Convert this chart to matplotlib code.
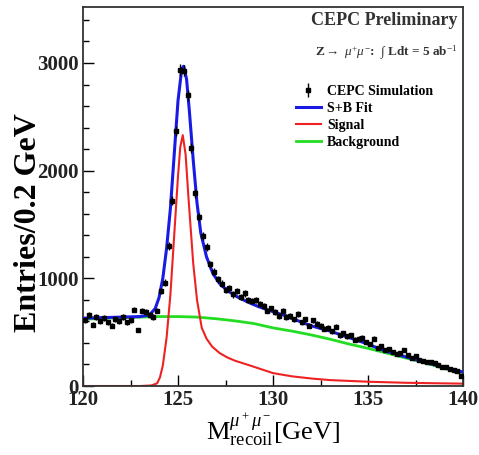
import numpy as np
import matplotlib
matplotlib.use("Agg")
import matplotlib.pyplot as plt
from matplotlib.ticker import MultipleLocator

plt.rcParams['font.family'] = ['Liberation Serif', 'DejaVu Serif']
plt.rcParams['mathtext.fontset'] = 'custom'
plt.rcParams['mathtext.rm'] = 'Liberation Serif'
plt.rcParams['mathtext.it'] = 'Liberation Serif:italic'
plt.rcParams['mathtext.bf'] = 'Liberation Serif:bold'

# recoil mass histogram, 0.2 GeV bins
bin_centers = [120.1 + 0.2 * i for i in range(100)]
entries = [610, 660, 570, 640, 600, 630, 590, 560, 620, 600,
           640, 590, 610, 710, 520, 700, 690, 660, 640, 700,
           880, 960, 1300, 1720, 2370, 2935, 2930, 2700, 2210, 1790,
           1570, 1390, 1290, 1130, 1060, 990, 950, 890, 910, 850,
           880, 830, 860, 800, 790, 800, 760, 740, 700, 720,
           690, 650, 700, 640, 650, 620, 670, 590, 620, 560,
           610, 580, 560, 530, 540, 510, 550, 470, 490, 460,
           470, 430, 440, 450, 410, 390, 440, 350, 370, 330,
           340, 320, 300, 310, 330, 290, 260, 280, 240, 230,
           225, 220, 210, 195, 180, 175, 160, 150, 135, 90]

# fitted curves
fit_x = [120.0, 123.0, 123.5, 123.8, 124.0, 124.2, 124.4, 124.6, 124.8, 125.0,
         125.2, 125.3, 125.45, 125.6, 125.8, 126.0, 126.2, 126.5, 126.85, 127.2,
         127.6, 128.2, 128.8, 129.2, 130.0, 130.7, 131.4, 132.0, 133.0, 134.0,
         135.0, 135.6, 136.0, 137.0, 138.0, 139.0, 140.0]
fit_y = [630, 645, 660, 720, 820, 1000, 1280, 1650, 2150, 2650,
         2950, 2970, 2850, 2550, 2100, 1700, 1420, 1200, 1040, 950,
         885, 820, 770, 740, 690, 650, 600, 560, 510, 450,
         390, 345, 320, 270, 220, 175, 130]

sig_x = [120.0, 123.0, 123.6, 123.9, 124.05, 124.2, 124.4, 124.6, 124.8, 125.0,
         125.12, 125.25, 125.4, 125.55, 125.8, 126.0, 126.25, 126.5, 126.8, 127.2,
         127.6, 128.0, 128.8, 130.0, 131.0, 132.0, 133.0, 135.0, 137.0, 140.0]
sig_y = [0, 0, 5, 25, 80, 190, 450, 850, 1400, 1950,
         2220, 2330, 2150, 1750, 1140, 800, 540, 440, 365, 305,
         265, 235, 190, 120, 90, 70, 55, 40, 30, 22]

bkg_x = [120, 122, 124, 125, 126, 127, 128, 129, 130, 131,
         132, 133, 134, 135, 136, 137, 138, 139, 140]
bkg_y = [620, 635, 645, 645, 640, 625, 605, 580, 540, 510,
         475, 435, 390, 350, 305, 260, 215, 165, 115]

fig = plt.figure(figsize=(4.79, 4.55), dpi=100)
ax = fig.add_axes([0.1733, 0.1516, 0.7933, 0.833])

ax.plot(bkg_x, bkg_y, color='#22dd22', lw=2.0, label='Background', zorder=2)
ax.plot(sig_x, sig_y, color='#ee2222', lw=1.5, label='Signal', zorder=2)
ax.plot(fit_x, fit_y, color='#1a1ae6', lw=2.2, label='S+B Fit', zorder=3)
ax.errorbar(bin_centers, entries, yerr=np.sqrt(entries), fmt='s', ms=3.4,
            color='black', ecolor='black', elinewidth=1.0, capsize=0,
            label='CEPC Simulation', zorder=4)

ax.set_xlim(120, 140)
ax.set_ylim(0, 3520)
ax.xaxis.set_major_locator(MultipleLocator(5))
ax.xaxis.set_minor_locator(MultipleLocator(2.5))
ax.yaxis.set_major_locator(MultipleLocator(1000))
ax.yaxis.set_minor_locator(MultipleLocator(200))
ax.tick_params(which='both', direction='in', top=False, right=False)
ax.tick_params(which='major', length=8, width=1.0, labelsize=15, pad=3)
ax.tick_params(which='minor', length=4, width=1.0)
for lab in ax.get_xticklabels() + ax.get_yticklabels():
    lab.set_fontweight('bold')
    lab.set_color('#222222')
for s in ax.spines.values():
    s.set_linewidth(1.3)
    s.set_color('#333333')

ax.set_ylabel('Entries/0.2 GeV', fontsize=23, fontweight='bold')
ax.yaxis.set_label_coords(-0.105, 0.43)
ax.set_xlabel(r'M$_{\rm recoil}^{\mu^+\mu^-}$[GeV]', fontsize=19, labelpad=1)

ax.text(0.985, 0.965, 'CEPC Preliminary', transform=ax.transAxes,
        ha='right', va='center', fontsize=13, fontweight='bold', color='#333333')
ax.text(0.985, 0.878, r'Z$\rightarrow$ $\mu^{+}\mu^{-}$:  $\int$ Ldt = 5 ab$^{-1}$',
        transform=ax.transAxes, ha='right', va='center', fontsize=9.5,
        fontweight='bold', color='#333333')

handles, labels = ax.get_legend_handles_labels()
order = [3, 2, 1, 0]
leg = ax.legend([handles[i] for i in order], [labels[i] for i in order],
                loc='upper left', bbox_to_anchor=(0.56, 0.795), frameon=False,
                prop={'weight': 'bold', 'size': 10}, handlelength=1.8,
                handletextpad=0.45, labelspacing=0.3, borderpad=0.0,
                borderaxespad=0.0)

fig.savefig('out.png', dpi=100)
